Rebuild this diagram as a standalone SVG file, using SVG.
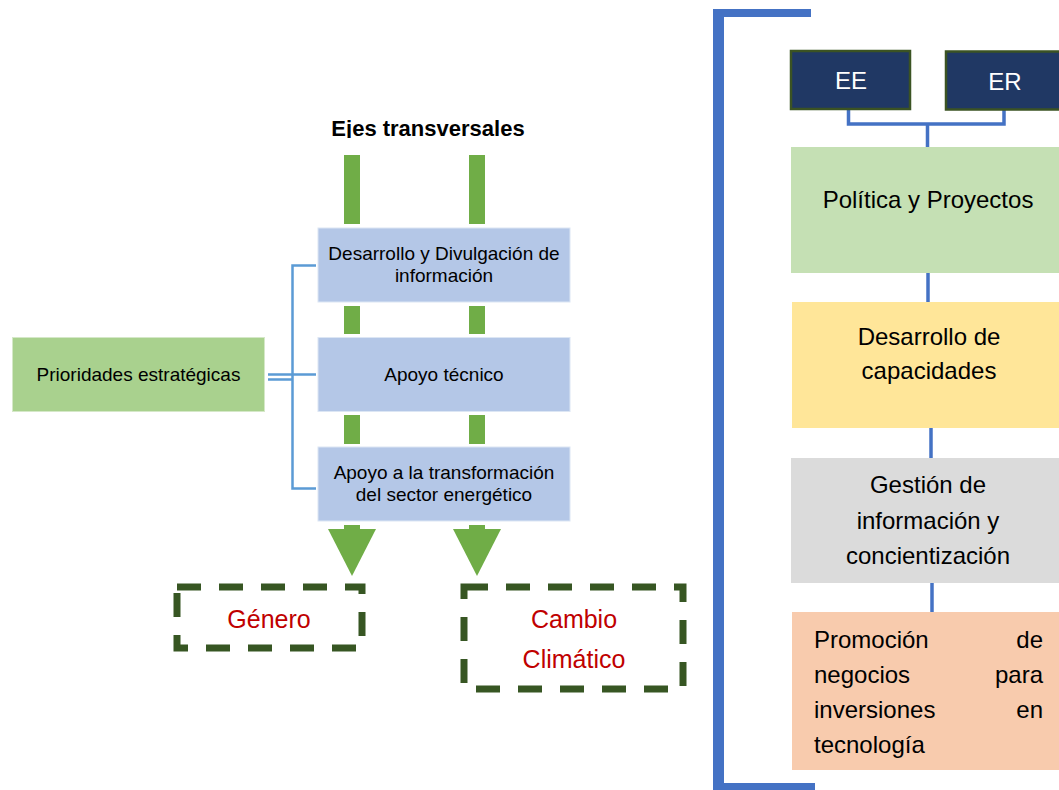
<svg xmlns="http://www.w3.org/2000/svg" width="1059" height="790" viewBox="0 0 1059 790">
<defs>
<style>
text{font-family:"Liberation Sans",Arial,sans-serif;}
.lt{font-size:19px;fill:#000;text-anchor:middle;}
.rt{font-size:24px;fill:#000;text-anchor:middle;}
.rs{font-size:24px;fill:#000;text-anchor:start;}
.re{font-size:24px;fill:#000;text-anchor:end;}
.bar{fill:#70AD47;}
.blue{fill:#B4C7E7;stroke:#DCE6F4;stroke-width:1;}
.dash{fill:none;stroke:#375623;stroke-width:7;stroke-dasharray:24 18;}
.red{font-size:25px;fill:#C00000;text-anchor:middle;}
.lc{fill:none;stroke:#5B9BD5;stroke-width:2.5;}
.rc{fill:none;stroke:#4472C4;stroke-width:3.5;}
.dk{fill:#203864;stroke:#3B5323;stroke-width:2.5;}
.wt{font-size:24px;fill:#fff;text-anchor:middle;}
</style>
<clipPath id="titleclip"><rect x="300" y="100" width="260" height="38"/></clipPath>
</defs>
<rect width="1059" height="790" fill="#fff"/>

<g id="title">
<text x="428" y="136" font-size="22" font-weight="bold" text-anchor="middle" clip-path="url(#titleclip)">Ejes transversales</text>
</g>

<g id="connectors">
<rect class="bar" x="344" y="155" width="16" height="69"/>
<rect class="bar" x="469" y="155" width="16" height="69"/>
<rect class="bar" x="344" y="306" width="16" height="28"/>
<rect class="bar" x="469" y="306" width="16" height="28"/>
<rect class="bar" x="344" y="415" width="16" height="29"/>
<rect class="bar" x="469" y="415" width="16" height="29"/>
<rect class="bar" x="344" y="525" width="16" height="6"/>
<rect class="bar" x="469" y="525" width="16" height="6"/>
<polygon class="bar" points="328,529 376,529 352,576"/>
<polygon class="bar" points="453,529 501,529 477,576"/>
<path class="lc" d="M268,374.5 H292 M268,379.5 H292 M316,265.5 H292.5 V488.5 H316 M292,374.5 H316"/>
<rect x="713" y="13" width="11" height="777" fill="#4472C4"/>
<rect x="713" y="9" width="98" height="8" fill="#4472C4"/>
<rect x="713" y="783" width="102" height="7" fill="#4472C4"/>
<path class="rc" d="M848.5,110 V124 H1004 V110 M927.5,124 V147"/>
<path class="rc" d="M928,272 V302"/>
<path class="rc" d="M931,427 V458"/>
<path class="rc" d="M932,583 V612"/>
</g>

<g id="n-prioridades">
<rect x="12.5" y="337.5" width="252" height="74" fill="#A9D18E" stroke="#D5E8C8" stroke-width="1"/>
<text class="lt" x="138.5" y="381">Prioridades estratégicas</text>
</g>

<g id="n-desarrollo-info">
<rect class="blue" x="318" y="228" width="252" height="74"/>
<text class="lt" x="444" y="260">Desarrollo y Divulgación de</text>
<text class="lt" x="444" y="282">información</text>
</g>

<g id="n-apoyo-tecnico">
<rect class="blue" x="318" y="337.5" width="252" height="74"/>
<text class="lt" x="444" y="381">Apoyo técnico</text>
</g>

<g id="n-apoyo-transformacion">
<rect class="blue" x="318" y="447" width="252" height="74"/>
<text class="lt" x="444" y="479">Apoyo a la transformación</text>
<text class="lt" x="444" y="501">del sector energético</text>
</g>

<g id="n-genero">
<rect class="dash" x="177" y="587" width="185" height="61"/>
<text class="red" x="269" y="628">Género</text>
</g>

<g id="n-cambio">
<rect class="dash" x="464" y="587" width="219" height="102"/>
<text class="red" x="574" y="628">Cambio</text>
<text class="red" x="574" y="668">Climático</text>
</g>

<g id="n-ee">
<rect class="dk" x="791" y="51" width="119" height="58"/>
<text class="wt" x="851" y="89">EE</text>
</g>

<g id="n-er">
<rect class="dk" x="946" y="51.5" width="116" height="58"/>
<text class="wt" x="1005" y="90">ER</text>
</g>

<g id="n-politica">
<rect x="791" y="147" width="268" height="126" fill="#C5E0B4"/>
<text class="rt" x="928" y="208">Política y Proyectos</text>
</g>

<g id="n-capacidades">
<rect x="792" y="302" width="267" height="126" fill="#FFE699"/>
<text class="rt" x="929" y="345">Desarrollo de</text>
<text class="rt" x="929" y="379">capacidades</text>
</g>

<g id="n-gestion">
<rect x="791" y="458" width="268" height="125" fill="#DBDBDB"/>
<text class="rt" x="928" y="493">Gestión de</text>
<text class="rt" x="928" y="529">información y</text>
<text class="rt" x="928" y="564">concientización</text>
</g>

<g id="n-promocion">
<rect x="792" y="612" width="267" height="158" fill="#F8CBAD"/>
<text class="rs" x="814" y="648">Promoción</text>
<text class="re" x="1043" y="648">de</text>
<text class="rs" x="814" y="683">negocios</text>
<text class="re" x="1043" y="683">para</text>
<text class="rs" x="814" y="718">inversiones</text>
<text class="re" x="1043" y="718">en</text>
<text class="rs" x="814" y="753">tecnología</text>
</g>
</svg>
